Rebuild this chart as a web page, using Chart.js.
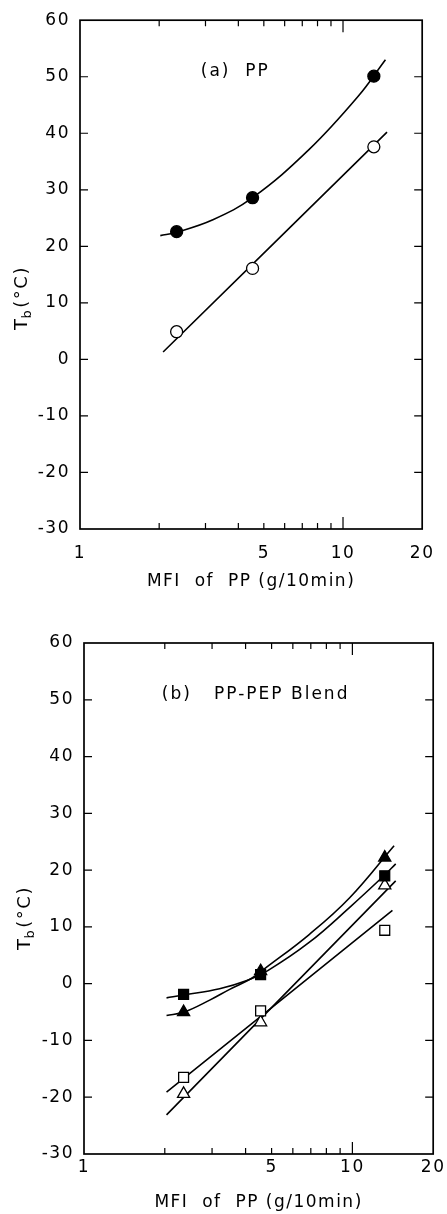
<!DOCTYPE html>
<html>
<head>
<meta charset="utf-8">
<script src="https://cdn.jsdelivr.net/npm/chart.js@4.4.1/dist/chart.umd.min.js"></script>
<style>
  html, body { margin: 0; padding: 0; background: #fff; }
  canvas { position: absolute; left: 0; }
  #chartA { top: 0; }
  #chartB { top: 600px; }
</style>
</head>
<body>
<canvas id="chartA" width="447" height="600"></canvas>
<canvas id="chartB" width="447" height="614"></canvas>
<script>
// ---- panel (a): PP ----
const mfiA = [2.33, 4.53, 13.1];
const tbFilledA = [22.6, 28.6, 50.1];
const tbOpenA = [4.9, 16.1, 37.6];
// fitted curves
const curveFilledAx = [2.02, 2.33, 3.2, 4.53, 7.42, 11.4, 14.5];
const curveFilledAy = [21.9, 22.5, 24.7, 28.6, 37.1, 46.5, 53.0];
const curveOpenAx = [2.07, 14.7];
const curveOpenAy = [1.3, 40.2];

// ---- panel (b): PP-PEP blend ----
const mfiB = [2.35, 4.55, 13.2];
const tbFilledSqB = [-1.9, 1.6, 19.0];
const tbFilledTriB = [-5.0, 2.2, 22.2];
const tbOpenSqB = [-16.5, -4.8, 9.4];
const tbOpenTriB = [-19.4, -6.8, 17.3];
const curveFilledSqBx = [2.03, 2.36, 3.20, 4.02, 4.84, 6.92, 9.75, 13.1, 14.5];
const curveFilledSqBy = [-2.5, -2.0, -0.9, 0.5, 2.3, 7.3, 13.4, 19.0, 21.1];
const curveFilledTriBx = [2.03, 2.36, 2.94, 3.49, 4.20, 4.70, 6.92, 9.75, 14.3];
const curveFilledTriBy = [-5.6, -5.0, -2.9, -1.0, 0.9, 2.6, 8.7, 15.1, 24.3];
const curveOpenSqBx = [2.03, 14.1];
const curveOpenSqBy = [-19.1, 12.9];
const curveOpenTriBx = [2.03, 14.5];
const curveOpenTriBy = [-23.1, 18.1];

// ---- axes ----
const xLabelTicks = [1, 5, 10, 20];
const xMinorTicks = [2, 3, 4, 5, 6, 7, 8, 9, 10];
const yMajorTicks = [-20, -10, 0, 10, 20, 30, 40, 50];

const FONT = '"DejaVu Sans", sans-serif';
const pts = (xs, ys) => xs.map((x, i) => ({ x, y: ys[i] }));

function curve(xs, ys) {
  return {
    data: pts(xs, ys), showLine: true, pointRadius: 0,
    borderColor: '#000', borderWidth: 1.6,
    tension: 0.4, order: 2
  };
}
function marks(xs, ys, style, filled, r) {
  return {
    data: pts(xs, ys), showLine: false, pointStyle: style, pointRadius: r,
    pointBackgroundColor: filled ? '#000' : '#fff',
    pointBorderColor: '#000', pointBorderWidth: 1.3, order: 1
  };
}

// wide, spaced lettering like the original labels
const spacing = {
  id: 'spacing',
  beforeDraw(chart) { chart.ctx.letterSpacing = '1.5px'; }
};

const frameTicks = {
  id: 'frameTicks',
  afterDraw(chart, args, o) {
    const { ctx, chartArea: a, scales: { x, y } } = chart;
    ctx.save();
    ctx.strokeStyle = '#000';
    ctx.lineWidth = 1.7;
    ctx.strokeRect(a.left, a.top, a.right - a.left, a.bottom - a.top);
    ctx.lineWidth = 1.2;
    ctx.beginPath();
    yMajorTicks.forEach(v => {
      const py = y.getPixelForValue(v);
      ctx.moveTo(a.left, py); ctx.lineTo(a.left + 8, py);
      ctx.moveTo(a.right, py); ctx.lineTo(a.right - 8, py);
    });
    xMinorTicks.forEach(v => {
      const px = x.getPixelForValue(v);
      const len = v === 10 ? 12 : 6;
      ctx.moveTo(px, a.bottom); ctx.lineTo(px, a.bottom - len);
      ctx.moveTo(px, a.top); ctx.lineTo(px, a.top + len);
    });
    ctx.stroke();

    // panel label
    ctx.fillStyle = '#000';
    ctx.letterSpacing = '2px';
    ctx.font = '17px ' + FONT;
    ctx.textAlign = 'left';
    ctx.textBaseline = 'middle';
    ctx.fillText(o.label, x.getPixelForValue(o.labelAt[0]), y.getPixelForValue(o.labelAt[1]));

    // y title: T_b (°C), rotated
    ctx.letterSpacing = '1.5px';
    ctx.translate(o.yTitle[0], o.yTitle[1]);
    ctx.rotate(-Math.PI / 2);
    ctx.font = '18px ' + FONT;
    const wT = ctx.measureText('T').width;
    ctx.font = '13px ' + FONT;
    const wb = ctx.measureText('b').width;
    ctx.font = '18px ' + FONT;
    const wC = ctx.measureText('(°C)').width;
    let cx = -(wT + wb + wC) / 2;
    ctx.fillText('T', cx, 0); cx += wT - 1;
    ctx.font = '13px ' + FONT;
    ctx.fillText('b', cx, 6); cx += wb + 1;
    ctx.font = '18px ' + FONT;
    ctx.fillText('(°C)', cx, 0);
    ctx.restore();
  }
};

function makePanel(id, p) {
  new Chart(document.getElementById(id), {
    type: 'scatter',
    data: { datasets: p.datasets },
    plugins: [spacing, frameTicks],
    options: {
      responsive: false,
      animation: false,
      layout: { padding: p.padding },
      plugins: {
        legend: { display: false },
        tooltip: { enabled: false },
        frameTicks: { label: p.label, labelAt: p.labelAt, yTitle: p.yTitle }
      },
      scales: {
        x: {
          type: 'logarithmic', min: 1, max: 20,
          grid: { display: false, drawTicks: false },
          border: { display: false },
          afterBuildTicks: s => { s.ticks = xLabelTicks.map(v => ({ value: v })); },
          afterFit: s => { s.height = p.xHeight; },
          ticks: {
            color: '#000', font: { family: FONT, size: 17 }, padding: p.xPad,
            autoSkip: false, maxRotation: 0, callback: v => String(v)
          },
          title: {
            display: true, text: 'MFI  of  PP (g/10min)', color: '#000',
            font: { family: FONT, size: 17 }, padding: p.titlePad
          }
        },
        y: {
          min: -30, max: 60,
          grid: { display: false, drawTicks: false },
          border: { display: false },
          afterFit: s => { s.width = p.yWidth; },
          ticks: { stepSize: 10, color: '#000', font: { family: FONT, size: 17 }, padding: 10 }
        }
      }
    }
  });
}

makePanel('chartA', {
  padding: { top: 16, right: 19, left: 0, bottom: 0 },
  xHeight: 71, yWidth: 80, xPad: 14, titlePad: { top: 8, bottom: 8 },
  label: '(a)  PP', labelAt: [2.88, 51], yTitle: [22, 298],
  datasets: [
    marks(mfiA, tbFilledA, 'circle', true, 6),
    marks(mfiA, tbOpenA, 'circle', false, 6),
    curve(curveFilledAx, curveFilledAy),
    curve(curveOpenAx, curveOpenAy)
  ]
});

makePanel('chartB', {
  padding: { top: 43, right: 13, left: 0, bottom: 0 },
  xHeight: 60, yWidth: 84, xPad: 3, titlePad: { top: 1, bottom: 1 },
  label: '(b)   PP-PEP Blend', labelAt: [1.95, 51], yTitle: [25, 318],
  datasets: [
    marks(mfiB, tbFilledSqB, 'rect', true, 7),
    marks(mfiB, tbFilledTriB, 'triangle', true, 7),
    marks(mfiB, tbOpenSqB, 'rect', false, 7),
    marks(mfiB, tbOpenTriB, 'triangle', false, 7),
    curve(curveFilledSqBx, curveFilledSqBy),
    curve(curveFilledTriBx, curveFilledTriBy),
    curve(curveOpenSqBx, curveOpenSqBy),
    curve(curveOpenTriBx, curveOpenTriBy)
  ]
});
</script>
</body>
</html>
